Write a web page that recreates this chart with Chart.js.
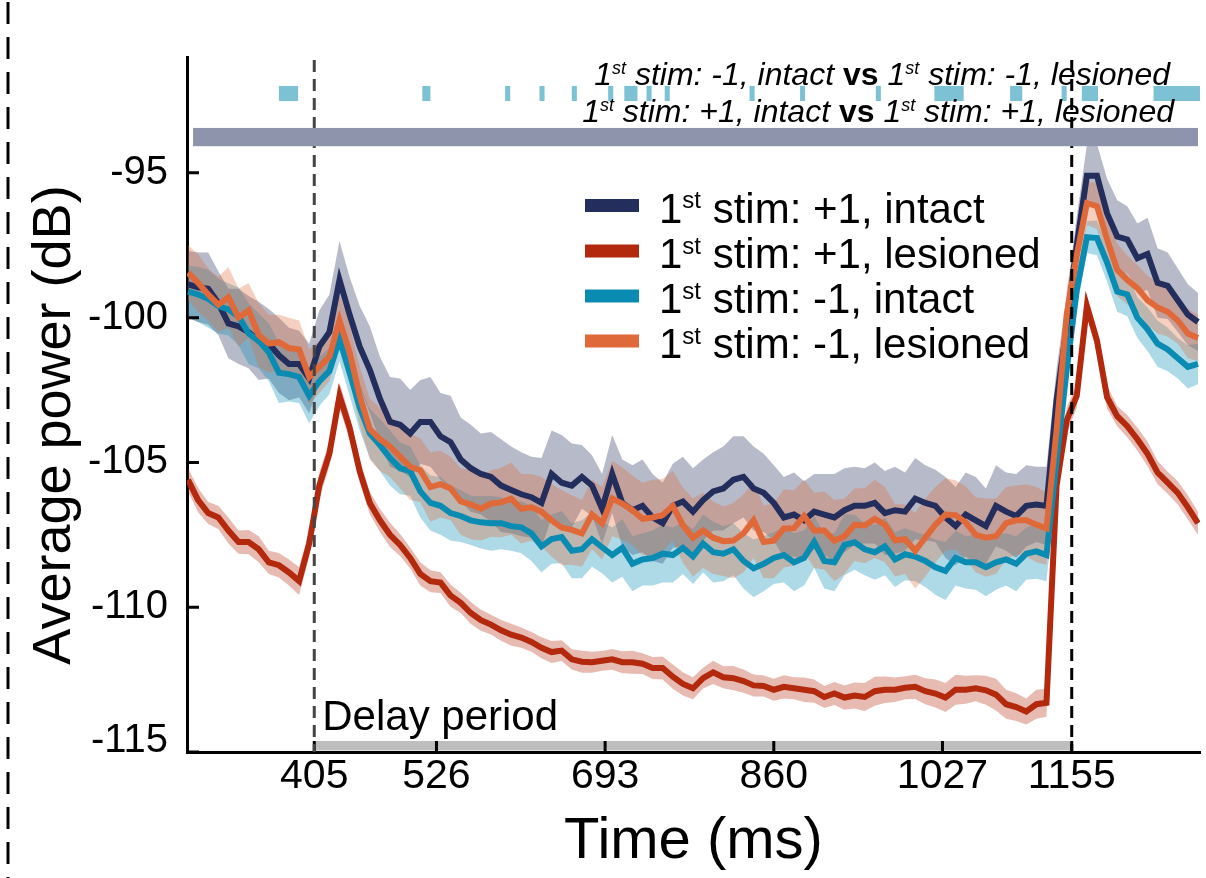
<!DOCTYPE html>
<html>
<head>
<meta charset="utf-8">
<title>Average power</title>
<script src="https://cdn.jsdelivr.net/npm/chart.js@4.4.1/dist/chart.umd.min.js"></script>
<style>
  html, body { margin: 0; padding: 0; background: #fff; }
  #chart { display: block; }
</style>
</head>
<body>
<canvas id="chart" width="1206" height="878"></canvas>
<script>
const FONT = "'Liberation Sans', Arial, Helvetica, sans-serif";

// time axis (ms)
const times = [280, 290, 300, 310, 320, 330, 340, 350, 360, 370,
  380, 390, 400, 410, 420, 430, 440, 450, 460, 470,
  480, 490, 500, 510, 520, 530, 540, 550, 560, 570,
  580, 590, 600, 610, 620, 630, 640, 650, 660, 670,
  680, 690, 700, 710, 720, 730, 740, 750, 760, 770,
  780, 790, 800, 810, 820, 830, 840, 850, 860, 870,
  880, 890, 900, 910, 920, 930, 940, 950, 960, 970,
  980, 990, 1000, 1010, 1020, 1030, 1040, 1050, 1060, 1070,
  1080, 1090, 1100, 1110, 1120, 1130, 1140, 1150, 1160, 1170,
  1180, 1190, 1200, 1210, 1220, 1230, 1240, 1250, 1260, 1270,
  1280];

const xTicks = [405, 526, 693, 860, 1027, 1155];
const yTicks = [-115, -110, -105, -100, -95];

// mean power (dB)
const plusIntact = [-98.85, -98.95, -99.0, -99.5, -100.2, -100.3, -100.5, -100.8, -100.9, -101.3,
  -101.6, -101.6, -102.1, -101.0, -100.5, -98.7, -99.9, -101.0, -101.8, -102.8,
  -103.6, -103.7, -104.0, -103.6, -103.6, -104.1, -104.3, -104.9, -105.2, -105.4,
  -105.5, -105.8, -105.95, -106.1, -106.2, -106.4, -105.4, -105.7, -105.8, -105.5,
  -105.8, -106.6, -105.4, -106.4, -106.65, -106.5, -106.9, -107.1, -106.5, -106.35,
  -106.7, -106.3, -106.0, -105.9, -105.6, -105.5, -105.9, -106.05, -106.4, -106.9,
  -106.8, -107.0, -106.7, -106.8, -106.9, -106.65, -106.5, -106.5, -106.4, -106.75,
  -106.65, -106.7, -106.25, -106.4, -106.5, -106.9, -107.2, -106.8, -107.0, -107.2,
  -106.5, -106.7, -106.85, -106.5, -106.45, -106.5, -102.85, -100.3, -97.5, -95.1,
  -95.1, -96.4, -97.2, -97.3, -97.95, -97.8, -98.8, -98.9, -99.4, -99.9,
  -100.15];

const plusLesioned = [-105.6, -106.3, -106.75, -106.9, -107.35, -107.75, -107.75, -108.0, -108.45, -108.55,
  -108.8, -109.1, -107.8, -105.8, -104.7, -102.7, -103.8, -105.3, -106.4, -107.0,
  -107.5, -107.85, -108.3, -108.85, -109.1, -109.15, -109.6, -109.85, -110.2, -110.45,
  -110.6, -110.8, -110.95, -111.05, -111.2, -111.4, -111.55, -111.5, -111.8, -111.88,
  -111.9, -111.85, -111.8, -111.9, -111.9, -111.95, -112.1, -112.1, -112.4, -112.65,
  -112.8, -112.45, -112.25, -112.42, -112.45, -112.55, -112.7, -112.72, -112.85, -112.75,
  -112.8, -112.85, -112.9, -113.1, -112.98, -113.12, -113.05, -113.1, -112.9, -112.85,
  -112.85, -112.78, -112.75, -112.9, -112.98, -113.12, -112.85, -112.85, -112.8, -112.87,
  -113.02, -113.35, -113.45, -113.6, -113.35, -113.3, -105.8, -103.55, -102.7, -99.6,
  -100.8, -102.75, -103.4, -103.75, -104.2, -104.7, -105.35, -105.7, -106.05, -106.55,
  -107.1];

const minusIntact = [-99.1, -99.2, -99.35, -99.6, -99.72, -99.95, -100.55, -100.8, -101.2, -101.9,
  -101.95, -102.05, -102.7, -102.2, -101.85, -100.75, -101.9, -103.1, -104.0, -104.4,
  -104.85, -105.2, -105.3, -106.0, -106.4, -106.5, -106.75, -106.85, -107.0, -107.07,
  -107.1, -107.1, -107.2, -107.24, -107.45, -107.9, -107.65, -107.58, -108.05, -108.0,
  -107.65, -107.93, -108.2, -107.95, -108.5, -108.35, -108.3, -108.15, -108.2, -107.95,
  -108.25, -107.8, -108.1, -108.15, -108.0, -108.4, -108.66, -108.5, -108.3, -108.2,
  -108.45, -108.3, -107.75, -108.4, -108.45, -107.85, -107.76, -108.0, -108.1, -107.9,
  -108.35, -108.17, -108.25, -108.4, -108.62, -108.75, -108.3, -108.45, -108.45, -108.62,
  -108.45, -108.35, -108.5, -108.15, -108.07, -108.2, -104.93, -101.8, -99.05, -97.22,
  -97.25, -98.1, -99.1, -99.2, -100.0, -100.4, -100.9, -101.1, -101.4, -101.7,
  -101.6];

const minusLesioned = [-98.45, -98.8, -99.2, -99.55, -99.3, -100.0, -99.75, -100.6, -100.9, -100.85,
  -101.05, -101.1, -102.05, -101.7, -101.35, -100.1, -101.2, -102.7, -103.85, -104.2,
  -104.45, -104.8, -105.15, -105.27, -105.85, -105.75, -105.9, -106.35, -106.45, -106.6,
  -106.42, -106.38, -106.25, -106.6, -106.55, -106.7, -107.0, -107.25, -107.33, -107.45,
  -106.8, -107.1, -106.25, -106.42, -106.65, -106.95, -106.9, -106.82, -106.5, -107.17,
  -107.6, -107.35, -107.6, -107.72, -107.7, -107.45, -107.0, -107.75, -107.7, -107.28,
  -107.27, -106.85, -107.35, -107.35, -107.7, -107.55, -107.15, -107.18, -106.95, -107.15,
  -107.69, -107.65, -108.05, -107.6, -107.15, -106.8, -106.82, -107.07, -107.5, -107.6,
  -107.55, -107.1, -107.0, -107.0, -107.15, -107.28, -103.9, -99.9, -97.85, -96.05,
  -96.15, -97.3, -98.35, -98.7, -98.98, -99.4, -99.65, -99.8, -100.1, -100.55,
  -100.7];

// standard error (dB), drawn as shaded bands
const plusIntactSem = [1.15, 1.2, 1.25, 1.1, 1.2, 1.3, 1.25, 1.35, 1.2, 1.3,
  1.25, 1.15, 1.2, 1.25, 1.3, 1.35, 1.3, 1.4, 1.5, 1.45,
  1.55, 1.6, 1.5, 1.45, 1.55, 1.5, 1.6, 1.45, 1.5, 1.4,
  1.55, 1.6, 1.5, 1.45, 1.4, 1.55, 1.5, 1.65, 1.45, 1.1,
  1.05, 1.2, 1.35, 1.5, 1.55, 1.6, 1.5, 1.4, 1.45, 1.55,
  1.5, 1.4, 1.35, 1.45, 1.5, 1.4, 1.45, 1.35, 1.3, 1.4,
  1.45, 1.35, 1.3, 1.4, 1.5, 1.45, 1.35, 1.3, 1.4, 1.45,
  1.5, 1.35, 1.4, 1.3, 1.25, 1.4, 1.35, 1.45, 1.5, 1.3,
  1.4, 1.35, 1.45, 1.4, 1.3, 1.35, 1.1, 1.05, 1.0, 1.05,
  1.1, 1.2, 1.25, 1.15, 1.2, 1.25, 1.2, 1.15, 1.1, 1.05,
  1.0];

const plusLesionedSem = [0.4, 0.42, 0.38, 0.4, 0.45, 0.4, 0.42, 0.45, 0.4, 0.42,
  0.45, 0.48, 0.45, 0.45, 0.42, 0.45, 0.4, 0.4, 0.38, 0.4,
  0.42, 0.38, 0.36, 0.4, 0.38, 0.36, 0.38, 0.35, 0.38, 0.36,
  0.34, 0.36, 0.38, 0.35, 0.34, 0.36, 0.38, 0.36, 0.35, 0.38,
  0.36, 0.34, 0.36, 0.38, 0.4, 0.36, 0.38, 0.4, 0.42, 0.4,
  0.38, 0.36, 0.4, 0.38, 0.42, 0.4, 0.38, 0.36, 0.38, 0.4,
  0.38, 0.42, 0.4, 0.38, 0.4, 0.42, 0.45, 0.48, 0.5, 0.46,
  0.42, 0.4, 0.42, 0.45, 0.48, 0.5, 0.52, 0.48, 0.45, 0.5,
  0.55, 0.5, 0.48, 0.45, 0.5, 0.48, 0.5, 0.45, 0.4, 0.35,
  0.38, 0.4, 0.35, 0.38, 0.4, 0.42, 0.4, 0.38, 0.4, 0.42,
  0.4];

const minusIntactSem = [0.9, 0.95, 1.0, 0.95, 0.9, 1.0, 1.05, 0.95, 1.0, 1.05,
  0.95, 0.9, 0.95, 0.85, 0.8, 0.75, 0.8, 0.8, 0.85, 0.9,
  0.95, 0.9, 0.85, 0.9, 0.95, 1.0, 0.95, 0.9, 0.85, 0.9,
  0.95, 0.9, 0.85, 0.9, 0.95, 0.9, 0.85, 0.9, 0.95, 1.0,
  0.95, 0.9, 0.95, 1.0, 0.95, 0.9, 0.95, 1.0, 0.95, 0.9,
  0.95, 1.0, 1.05, 0.95, 0.9, 0.95, 1.0, 0.95, 0.9, 0.95,
  1.0, 0.95, 0.9, 0.95, 1.0, 1.05, 0.95, 0.9, 0.95, 1.0,
  0.95, 0.9, 0.85, 0.9, 0.95, 1.0, 0.95, 0.9, 0.95, 1.0,
  0.95, 0.9, 0.95, 0.9, 0.95, 0.9, 0.8, 0.7, 0.6, 0.55,
  0.6, 0.65, 0.7, 0.75, 0.7, 0.75, 0.8, 0.75, 0.7, 0.75,
  0.7];

const minusLesionedSem = [0.95, 1.0, 0.9, 0.95, 1.05, 1.0, 0.95, 1.1, 1.0, 0.95,
  1.05, 1.0, 0.95, 0.9, 0.85, 0.9, 0.95, 1.0, 1.05, 1.1,
  1.05, 1.1, 1.15, 1.1, 1.2, 1.15, 1.1, 1.15, 1.2, 1.1,
  1.15, 1.2, 1.25, 1.2, 1.15, 1.2, 1.25, 1.3, 1.2, 1.15,
  1.2, 1.25, 1.3, 1.25, 1.2, 1.25, 1.3, 1.25, 1.2, 1.3,
  1.35, 1.3, 1.25, 1.2, 1.3, 1.35, 1.3, 1.25, 1.3, 1.35,
  1.3, 1.25, 1.3, 1.35, 1.4, 1.3, 1.25, 1.3, 1.35, 1.3,
  1.25, 1.2, 1.3, 1.35, 1.3, 1.25, 1.2, 1.25, 1.3, 1.35,
  1.3, 1.25, 1.2, 1.25, 1.3, 1.25, 1.1, 0.9, 0.8, 0.75,
  0.8, 0.85, 0.9, 0.85, 0.8, 0.85, 0.9, 0.85, 0.8, 0.85,
  0.8];

// significant time windows (ms) for the two comparisons
const minusSigWindows = [[370, 389], [512, 520], [594, 599], [628, 633], [660, 665], [696, 701],
  [712, 725], [734, 739], [752, 757], [836, 841], [886, 891], [961, 966], [1019, 1048],
  [1094, 1106], [1145, 1150], [1165, 1181], [1236, 1282]];
const plusSigWindows = [[285, 1280]];

const delayPeriod = [405, 1155];

const seriesLabels = ["1st stim: +1, intact", "1st stim: +1, lesioned",
  "1st stim: -1, intact", "1st stim: -1, lesioned"];
const seriesMeans = [plusIntact, plusLesioned, minusIntact, minusLesioned];
const seriesSems = [plusIntactSem, plusLesionedSem, minusIntactSem, minusLesionedSem];
const lineColors = ["#232e5c", "#b3290e", "#0a8cb2", "#e0693a"];
const bandColors = ["rgba(35,46,92,0.33)", "rgba(179,41,14,0.32)",
  "rgba(10,140,178,0.33)", "rgba(224,105,58,0.32)"];
// orange on top, navy at the back
const drawOrder = [3, 2, 1, 0];

const toPoints = arr => times.map((t, i) => ({ x: t, y: arr[i] }));

const datasets = [];
seriesMeans.forEach((mean, i) => {
  datasets.push({
    label: seriesLabels[i],
    data: toPoints(mean),
    borderColor: lineColors[i],
    borderWidth: 6,
    borderJoinStyle: "miter",
    pointRadius: 0,
    fill: false,
    order: drawOrder[i]
  });
});
seriesMeans.forEach((mean, i) => {
  const sem = seriesSems[i];
  datasets.push({
    label: "upper",
    data: toPoints(mean.map((v, k) => v + sem[k])),
    borderColor: "rgba(0,0,0,0)",
    borderWidth: 0,
    pointRadius: 0,
    backgroundColor: bandColors[i],
    fill: "+1",
    order: 10 + drawOrder[i]
  });
  datasets.push({
    label: "lower",
    data: toPoints(mean.map((v, k) => v - sem[k])),
    borderColor: "rgba(0,0,0,0)",
    borderWidth: 0,
    pointRadius: 0,
    fill: false,
    order: 10 + drawOrder[i]
  });
});

// draws a run of text pieces; pieces may be superscript or bold
function pieceFont(p, size, italic) {
  const s = p.sup ? Math.round(size * 0.56) : size;
  const style = p.bold ? "bold" : (italic ? "italic" : "normal");
  return style + " " + s + "px " + FONT;
}
function richWidth(ctx, parts, size, italic) {
  let w = 0;
  parts.forEach(p => {
    ctx.font = pieceFont(p, size, italic);
    w += ctx.measureText(p.t).width;
  });
  return w;
}
function drawRich(ctx, parts, x, y, size, italic) {
  ctx.textAlign = "left";
  ctx.textBaseline = "alphabetic";
  parts.forEach(p => {
    ctx.font = pieceFont(p, size, italic);
    ctx.fillText(p.t, x, p.sup ? y - size * 0.34 : y);
    x += ctx.measureText(p.t).width;
  });
}
function ordinalParts(label) {
  // "1st stim: ..." -> "1" + superscript "st" + rest
  return [{ t: label.slice(0, 1) }, { t: label.slice(1, 3), sup: true }, { t: label.slice(3) }];
}

const overlay = {
  id: "overlay",
  afterDatasetsDraw(chart) {
    const { ctx, chartArea: area, scales: { x, y } } = chart;
    ctx.save();

    // delay period bar and text
    ctx.fillStyle = "#bebebe";
    const dx0 = x.getPixelForValue(delayPeriod[0]);
    const dx1 = x.getPixelForValue(delayPeriod[1]);
    const dyTop = y.getPixelForValue(-114.62);
    ctx.fillRect(dx0, dyTop, dx1 - dx0, area.bottom - 1.5 - dyTop);
    ctx.fillStyle = "#000";
    ctx.font = "42px " + FONT;
    ctx.textAlign = "left";
    ctx.textBaseline = "alphabetic";
    ctx.fillText("Delay period", dx0 + 8, 730);

    // bottom y label sits a little above its tick, as in the original figure
    ctx.font = "40px " + FONT;
    ctx.textAlign = "right";
    ctx.textBaseline = "middle";
    ctx.fillText(String(yTicks[0]), area.left - 19, y.getPixelForValue(yTicks[0]) - 11);

    // inward tick marks
    ctx.strokeStyle = "#000";
    ctx.lineWidth = 3;
    ctx.beginPath();
    yTicks.forEach(v => {
      const py = y.getPixelForValue(v);
      ctx.moveTo(area.left, py);
      ctx.lineTo(area.left + 12, py);
    });
    xTicks.forEach(v => {
      const px = x.getPixelForValue(v);
      ctx.moveTo(px, area.bottom);
      ctx.lineTo(px, area.bottom - 11);
    });
    ctx.stroke();

    // stimulus onset lines
    ctx.setLineDash([12, 7]);
    ctx.lineWidth = 3;
    [[delayPeriod[0], "#444"], [delayPeriod[1], "#000"]].forEach(([t, c]) => {
      const px = x.getPixelForValue(t);
      ctx.strokeStyle = c;
      ctx.beginPath();
      ctx.moveTo(px, area.top + 3);
      ctx.lineTo(px, area.bottom);
      ctx.stroke();
    });
    ctx.setLineDash([]);

    // significance markers
    ctx.fillStyle = "#7dc1d5";
    const cTop = y.getPixelForValue(-92.0), cBot = y.getPixelForValue(-92.52);
    minusSigWindows.forEach(([a, b]) => {
      const xa = x.getPixelForValue(a), xb = Math.min(x.getPixelForValue(b), area.right);
      ctx.fillRect(xa, cTop, xb - xa, cBot - cTop);
    });
    ctx.fillStyle = "#8e94ab";
    const gTop = y.getPixelForValue(-93.45), gBot = y.getPixelForValue(-94.08);
    plusSigWindows.forEach(([a, b]) => {
      const xa = x.getPixelForValue(a), xb = x.getPixelForValue(b);
      ctx.fillRect(xa, gTop, xb - xa, gBot - gTop);
    });

    // comparison captions
    ctx.fillStyle = "#000";
    const cap1 = [{ t: "1" }, { t: "st", sup: true }, { t: " stim: -1, intact " }, { t: "vs", bold: true },
      { t: " 1" }, { t: "st", sup: true }, { t: " stim: -1, lesioned" }];
    const cap2 = [{ t: "1" }, { t: "st", sup: true }, { t: " stim: +1, intact " }, { t: "vs", bold: true },
      { t: " 1" }, { t: "st", sup: true }, { t: " stim: +1, lesioned" }];
    drawRich(ctx, cap1, 1170 - richWidth(ctx, cap1, 32, true), 85, 32, true);
    drawRich(ctx, cap2, 1174 - richWidth(ctx, cap2, 32, true), 122, 32, true);

    // legend
    const rows = [205.5, 251, 296, 341];
    chart.data.datasets.slice(0, 4).forEach((ds, i) => {
      ctx.fillStyle = ds.borderColor;
      ctx.fillRect(585, rows[i] - 6.5, 54, 13);
      ctx.fillStyle = "#000";
      drawRich(ctx, ordinalParts(ds.label), 659, rows[i] + 17, 42, false);
    });

    // y axis title
    ctx.save();
    ctx.translate(55, 425);
    ctx.rotate(-Math.PI / 2);
    ctx.font = "54px " + FONT;
    ctx.textAlign = "center";
    ctx.textBaseline = "middle";
    ctx.fillText("Average power (dB)", 0, 0);
    ctx.restore();

    // panel separator on the far left
    ctx.strokeStyle = "#000";
    ctx.lineWidth = 3;
    ctx.setLineDash([22, 13]);
    ctx.beginPath();
    ctx.moveTo(8, 2);
    ctx.lineTo(8, chart.height);
    ctx.stroke();

    ctx.restore();
  }
};

new Chart(document.getElementById("chart"), {
  type: "line",
  data: { datasets },
  options: {
    responsive: false,
    animation: false,
    events: [],
    layout: { padding: { top: 57, right: 6, left: 0, bottom: 0 } },
    plugins: { legend: { display: false }, tooltip: { enabled: false } },
    elements: { line: { tension: 0 } },
    scales: {
      x: {
        type: "linear",
        min: 279,
        max: 1282,
        afterBuildTicks: s => { s.ticks = xTicks.map(v => ({ value: v })); },
        afterFit: s => { s.height = 126; },
        grid: { display: false, drawTicks: false },
        border: { color: "#000", width: 3 },
        ticks: { color: "#000", font: { family: FONT, size: 41 }, padding: 0, callback: v => String(v) },
        title: {
          display: true,
          text: "Time (ms)",
          color: "#000",
          font: { family: FONT, size: 58 },
          padding: { top: 0, bottom: 1 }
        }
      },
      y: {
        min: -115,
        max: -91,
        afterBuildTicks: s => { s.ticks = yTicks.map(v => ({ value: v })); },
        afterFit: s => { s.width = 187; },
        grid: { display: false, drawTicks: false },
        border: { color: "#000", width: 3 },
        // the lowest label is drawn by the overlay plugin
        ticks: { color: "#000", font: { family: FONT, size: 40 }, padding: 19,
          callback: v => (v === yTicks[0] ? "" : String(v)) }
      }
    }
  },
  plugins: [overlay]
});
</script>
</body>
</html>
